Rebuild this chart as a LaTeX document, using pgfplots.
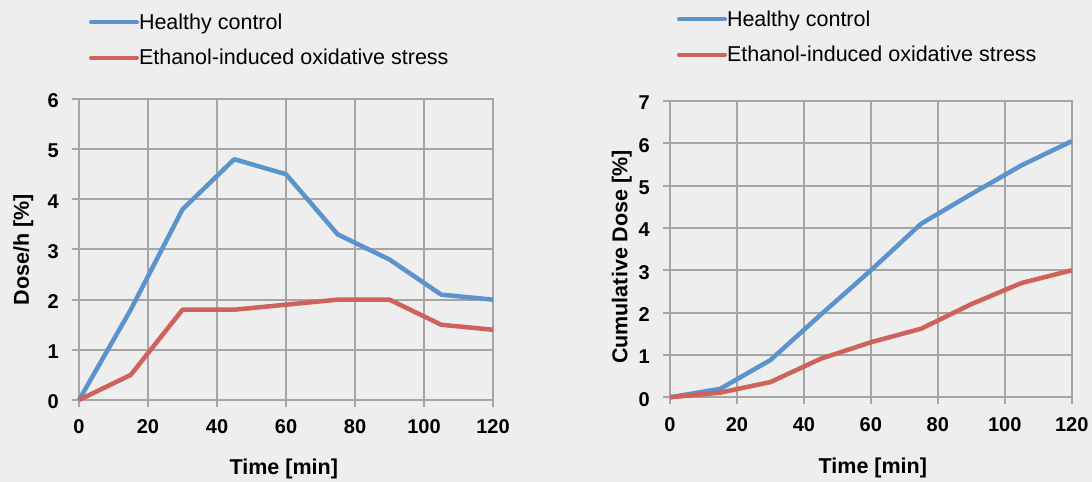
\documentclass[border=0pt]{standalone}
\usepackage{pgfplots}
\pgfplotsset{compat=1.18}
\usepackage{fontspec}
\setmainfont{Liberation Sans}
\definecolor{bgc}{RGB}{238,238,238}
\definecolor{gridc}{RGB}{165,165,165}
\definecolor{lblue}{RGB}{91,148,204}
\definecolor{lred}{RGB}{207,98,90}
\newcommand\legfont{\fontsize{21.5bp}{25bp}\selectfont}
\newcommand\tickfont{\fontsize{20bp}{24bp}\selectfont\bfseries}
\newcommand\labfont{\fontsize{21.5bp}{26bp}\selectfont\bfseries}
\pgfplotsset{
  mystyle/.style={
    scale only axis,
    anchor=south west,
    xmin=0, xmax=120,
    xtick={0,20,...,120},
    grid=major,
    grid style={gridc, line width=2bp},
    axis line style={gridc, line width=2bp},
    tick style={gridc, line width=2bp},
    tick align=outside,
    tick pos=left,
    major tick length=7bp,
    /pgf/number format/assume math mode=true,
    xticklabel style={font=\tickfont, anchor=center, yshift=-20bp, inner sep=0pt},
    yticklabel style={font=\tickfont, anchor=east, xshift=-13bp, yshift=-2bp, inner sep=0pt},
    legend cell align=left,
    legend style={draw=none, fill=none, inner sep=0pt, outer sep=0pt, font=\legfont,
      nodes={inner sep=0pt}, row sep=18bp, anchor=west,
      /tikz/every even column/.append style={column sep=0pt}},
    legend image code/.code={\draw[#1, line width=4bp, line cap=round] (0bp,0bp) -- (46bp,0bp);},
    every axis plot/.append style={line width=4.5bp, line join=round},
    clip=false,
  }
}
\begin{document}
\begin{tikzpicture}[x=1bp,y=1bp]
\useasboundingbox (0,0) rectangle (1092,482);
\fill[bgc] (0,0) rectangle (1092,482);
\begin{axis}[mystyle,
  at={(79bp,82bp)}, width=414bp, height=301bp,
  ymin=0, ymax=6, ytick={0,1,...,6},
  xlabel={Time [min]}, ylabel={Dose/h [\%]},
  every axis x label/.style={at={(axis description cs:0.4947,-0.228)}, anchor=center, font=\labfont},
  every axis y label/.style={at={(axis description cs:-0.1345,0.5)}, anchor=center, rotate=90, font=\labfont},
  legend style={at={(axis description cs:0.0242,1.196)}},
]
\addplot[lblue] coordinates {(0,0) (15,1.8) (30,3.8) (45,4.8) (60,4.5) (75,3.3) (90,2.8) (105,2.1) (120,2.0)};
\addlegendentry{Healthy control}
\addplot[lred] coordinates {(0,0) (15,0.5) (30,1.8) (45,1.8) (60,1.9) (75,2.0) (90,2.0) (105,1.5) (120,1.4)};
\addlegendentry{Ethanol-induced oxidative stress}
\end{axis}
\begin{axis}[mystyle,
  at={(670bp,84.7bp)}, width=401.7bp, height=296.3bp,
  ymin=0, ymax=7, ytick={0,1,...,7},
  xlabel={Time [min]}, ylabel={Cumulative Dose [\%]},
  every axis x label/.style={at={(axis description cs:0.505,-0.2386)}, anchor=center, font=\labfont},
  every axis y label/.style={at={(axis description cs:-0.120,0.4735)}, anchor=center, rotate=90, font=\labfont},
  legend style={at={(axis description cs:0.0174,1.216)}},
]
\addplot[lblue] coordinates {(0,0) (15,0.2) (30,0.88) (45,1.95) (60,3.0) (75,4.1) (90,4.8) (105,5.48) (120,6.05)};
\addlegendentry{Healthy control}
\addplot[lred] coordinates {(0,0) (15,0.11) (30,0.36) (45,0.91) (60,1.3) (75,1.62) (90,2.2) (105,2.7) (120,3.0)};
\addlegendentry{Ethanol-induced oxidative stress}
\end{axis}
\end{tikzpicture}
\end{document}
